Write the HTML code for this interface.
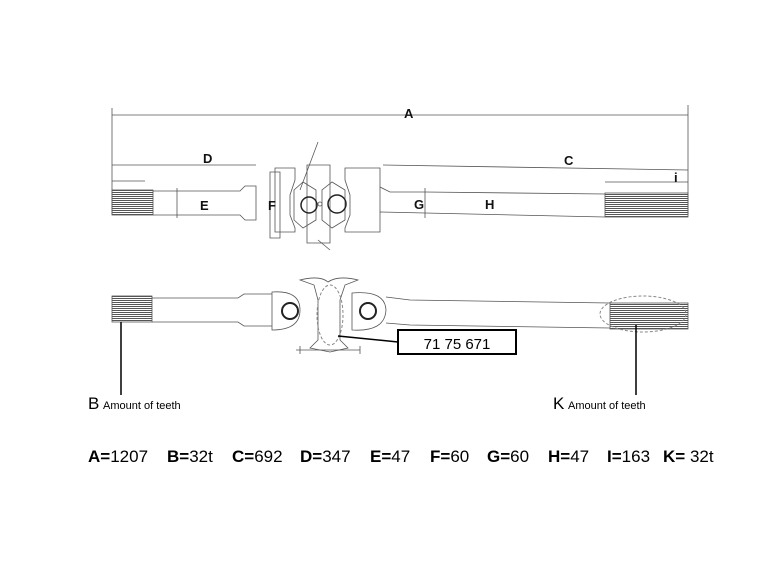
<!DOCTYPE html>
<html><head><style>
body{margin:0;background:#fff;width:770px;height:578px;overflow:hidden;font-family:"Liberation Sans",sans-serif}
</style></head><body>
<svg width="770" height="578" viewBox="0 0 770 578" xmlns="http://www.w3.org/2000/svg" font-family="Liberation Sans, sans-serif">
<defs>
<pattern id="sp" width="4" height="2" patternUnits="userSpaceOnUse"><rect width="4" height="1" fill="#555"/></pattern>
</defs>
<g stroke="#555" stroke-width="0.8" fill="none">
<line x1="112" y1="115" x2="688" y2="115"/>
<line x1="112" y1="108" x2="112" y2="215"/>
<line x1="688" y1="105" x2="688" y2="215"/>
<line x1="112" y1="165" x2="256" y2="165"/>
<line x1="383" y1="165" x2="688" y2="170"/>
<line x1="605" y1="182" x2="688" y2="182"/>
<line x1="112" y1="181" x2="145" y2="181"/>
<rect x="112" y="190" width="41" height="25" fill="url(#sp)"/>
<path d="M153 191 L240 191 L245 186 L256 186 L256 220 L245 220 L240 215 L153 215"/>
<path d="M380 187 L390 192 L425 192 L605 194 M380 212 L425 213 L605 217"/>
<rect x="605" y="193" width="83" height="24" fill="url(#sp)"/>
<line x1="177" y1="188" x2="177" y2="218"/>
<line x1="425" y1="188" x2="425" y2="218"/>
<path d="M275 168 L295 168 L295 180 L290 195 L290 215 L295 228 L295 232 L275 232 Z"/>
<path d="M270 172 L280 172 L280 238 L270 238 Z"/>
<path d="M345 168 L380 168 L380 232 L345 232 L345 228 L350 215 L350 195 L345 180 Z"/>
<path d="M307 165 L330 165 L330 243 L307 243 Z"/>
<path d="M303 182 L316 190 L316 220 L303 228 L294 220 L294 190 Z"/>
<path d="M332 182 L345 190 L345 220 L332 228 L322 220 L322 190 Z"/>
<circle cx="309" cy="205" r="8" stroke="#222" stroke-width="1.5"/>
<circle cx="337" cy="204" r="9" stroke="#222" stroke-width="1.5"/>
<circle cx="320" cy="204" r="2"/>
<line x1="300" y1="190" x2="318" y2="142"/>
<line x1="318" y1="240" x2="330" y2="250"/>
<rect x="112" y="296" width="40" height="26" fill="url(#sp)"/>
<path d="M152 298 L238 298 L244 294 L272 294 M152 322 L238 322 L244 326 L272 326"/>
<path d="M272 292 Q300 290 300 310 Q300 330 272 330 Z" fill="#fff"/>
<circle cx="290" cy="311" r="8" stroke="#222" stroke-width="2"/>
<path d="M352 293 Q385 290 386 310 Q385 332 352 330 Z" fill="#fff"/>
<circle cx="368" cy="311" r="8" stroke="#222" stroke-width="2"/>
<path d="M386 297 L410 300 L610 303 M386 323 L410 325 L610 328"/>
<rect x="610" y="303" width="78" height="26" fill="url(#sp)"/>
<path d="M300 280 Q320 275 328 282 Q338 275 358 280 L345 285 L340 300 L340 340 L348 348 L330 352 L310 348 L318 340 L318 300 L314 285 Z" fill="#fff"/>
<path d="M296 350 L360 350 M300 346 L300 354 M360 346 L360 354"/>
</g>
<ellipse cx="330" cy="315" rx="13" ry="30" fill="none" stroke="#888" stroke-dasharray="3,2"/>
<ellipse cx="643" cy="314" rx="43" ry="18" fill="none" stroke="#888" stroke-dasharray="3,2"/>
<line x1="338" y1="336" x2="398" y2="342" stroke="#000" stroke-width="1.5"/>
<rect x="398" y="330" width="118" height="24" fill="#fff" stroke="#000" stroke-width="2"/>
<text x="457" y="349" font-size="15" text-anchor="middle">71 75 671</text>
<line x1="121" y1="322" x2="121" y2="395" stroke="#000" stroke-width="1.5"/>
<line x1="636" y1="325" x2="636" y2="395" stroke="#000" stroke-width="1.5"/>
<g font-weight="bold" font-size="13" fill="#111">
<text x="404" y="118">A</text><text x="203" y="163">D</text><text x="564" y="165">C</text>
<text x="674" y="182">i</text><text x="200" y="210">E</text><text x="268" y="210">F</text>
<text x="414" y="209">G</text><text x="485" y="209">H</text>
</g>
<text x="88" y="409" font-size="17">B</text><text x="103" y="409" font-size="11">Amount of teeth</text>
<text x="553" y="409" font-size="17">K</text><text x="568" y="409" font-size="11">Amount of teeth</text>
<g font-size="17" fill="#000">
<text x="88" y="462"><tspan font-weight="bold">A=</tspan>1207</text>
<text x="167" y="462"><tspan font-weight="bold">B=</tspan>32t</text>
<text x="232" y="462"><tspan font-weight="bold">C=</tspan>692</text>
<text x="300" y="462"><tspan font-weight="bold">D=</tspan>347</text>
<text x="370" y="462"><tspan font-weight="bold">E=</tspan>47</text>
<text x="430" y="462"><tspan font-weight="bold">F=</tspan>60</text>
<text x="487" y="462"><tspan font-weight="bold">G=</tspan>60</text>
<text x="548" y="462"><tspan font-weight="bold">H=</tspan>47</text>
<text x="607" y="462"><tspan font-weight="bold">I=</tspan>163</text>
<text x="663" y="462"><tspan font-weight="bold">K=</tspan> 32t</text>
</g>
</svg>
</body></html>
